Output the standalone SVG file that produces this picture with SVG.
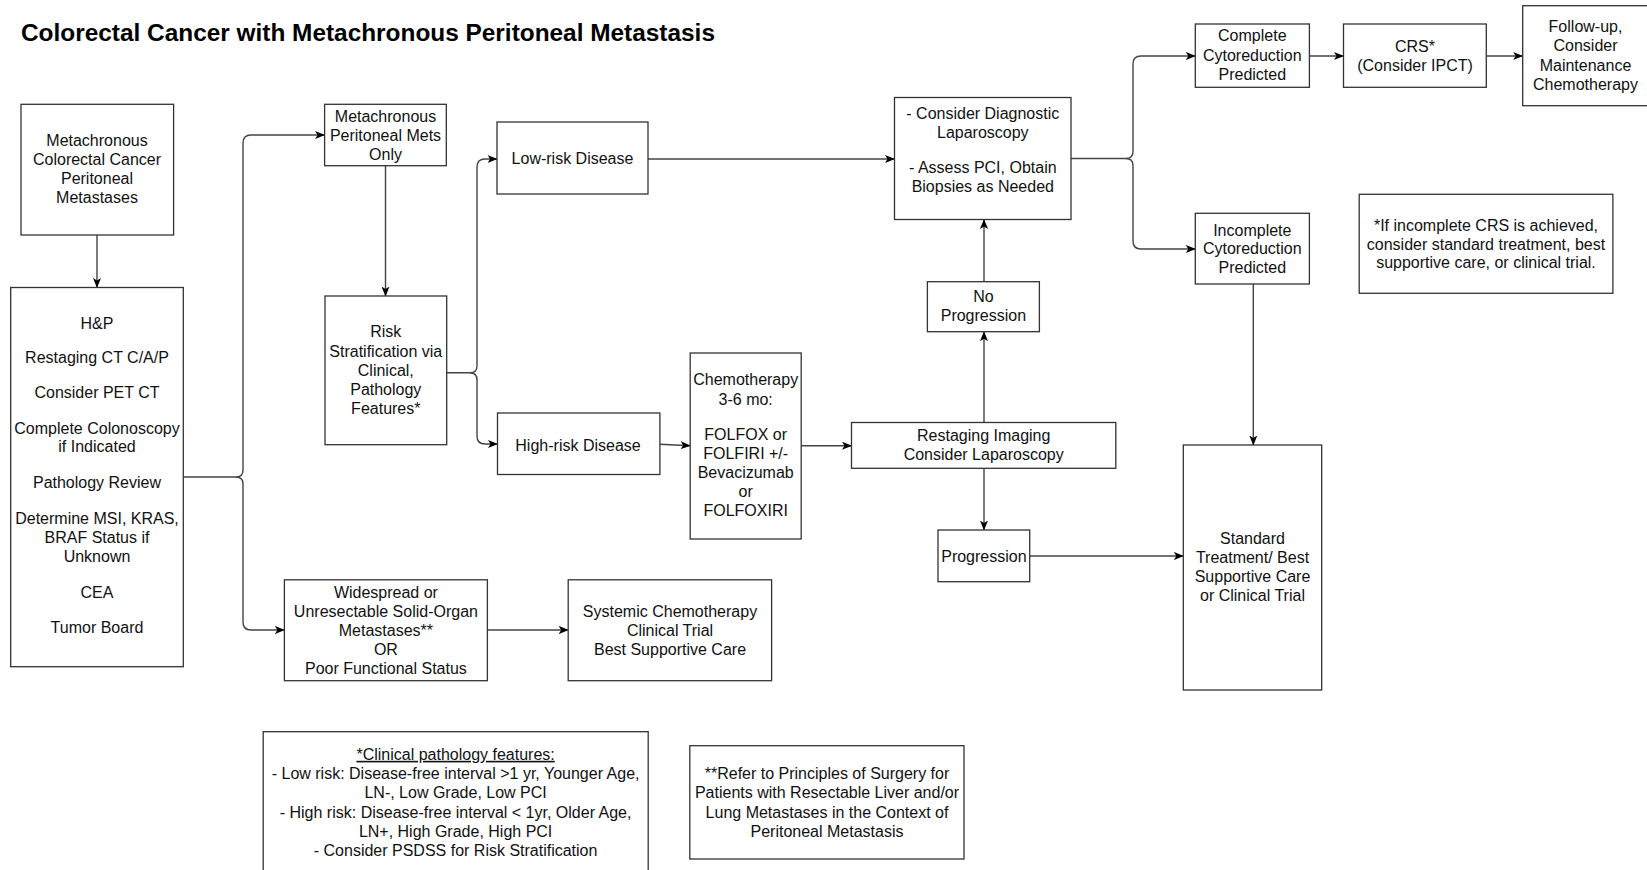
<svg xmlns="http://www.w3.org/2000/svg" width="1647" height="870" viewBox="0 0 1647 870">
<defs>
<style>
.box{fill:#fff;stroke:#333;stroke-width:1.3}
.t{font-family:"Liberation Sans",Arial,sans-serif;font-size:16px;fill:#111;text-anchor:middle}
.title{font-family:"Liberation Sans",Arial,sans-serif;font-size:24.4px;font-weight:bold;fill:#000}
.c{fill:none;stroke:#444;stroke-width:1.4}
</style>
<marker id="ah" viewBox="0 0 10 8" refX="9.5" refY="4" markerWidth="10" markerHeight="8" markerUnits="userSpaceOnUse" orient="auto">
<path d="M0,0 L10,4 L0,8 L2.5,4 Z" fill="#000"/>
</marker>
</defs>
<rect width="1647" height="870" fill="#fff"/>
<text class="title" x="21" y="40.5">Colorectal Cancer with Metachronous Peritoneal Metastasis</text>

<g id="connectors">
<path class="c" marker-end="url(#ah)" d="M97 235 V287.5"/>
<path class="c" marker-end="url(#ah)" d="M184 477 H236 Q243 477 243 470 V143 Q243 135 251 135 H324.6"/>
<path class="c" marker-end="url(#ah)" d="M236 477 Q243 477 243 484 V622 Q243 630 251 630 H284.4"/>
<path class="c" marker-end="url(#ah)" d="M385.5 165.7 V296"/>
<path class="c" marker-end="url(#ah)" d="M446.7 372.7 H470 Q477 372.7 477 366 V167 Q477 159 485 159 H497"/>
<path class="c" marker-end="url(#ah)" d="M470 372.7 Q477 372.7 477 380 V436 Q477 444 485 444 H497.5"/>
<path class="c" marker-end="url(#ah)" d="M648 159 H894.5"/>
<path class="c" marker-end="url(#ah)" d="M660 444.3 L690.2 445.7"/>
<path class="c" marker-end="url(#ah)" d="M801.2 445.7 H851.5"/>
<path class="c" marker-end="url(#ah)" d="M984 422.5 V331.7"/>
<path class="c" marker-end="url(#ah)" d="M984 281.7 V219.5"/>
<path class="c" marker-end="url(#ah)" d="M984 468.3 V530"/>
<path class="c" marker-end="url(#ah)" d="M1029.7 556 H1183.3"/>
<path class="c" marker-end="url(#ah)" d="M1071 158.5 H1126 Q1133 158.5 1133 151.5 V64 Q1133 56 1141 56 H1195.3"/>
<path class="c" marker-end="url(#ah)" d="M1126 158.5 Q1133 158.5 1133 165.5 V241 Q1133 249 1141 249 H1195.3"/>
<path class="c" marker-end="url(#ah)" d="M1309.4 56 H1343.5"/>
<path class="c" marker-end="url(#ah)" d="M1486.3 56 H1522.7"/>
<path class="c" marker-end="url(#ah)" d="M1253.3 284 V445"/>
<path class="c" marker-end="url(#ah)" d="M487.4 630 H568.2"/>
</g>

<g id="n1"><rect class="box" x="21" y="104.3" width="152.6" height="130.7"/>
<text class="t" x="97" y="145.5">Metachronous</text>
<text class="t" x="97" y="164.8">Colorectal Cancer</text>
<text class="t" x="97" y="184.2">Peritoneal</text>
<text class="t" x="97" y="203.2">Metastases</text></g>

<g id="n2"><rect class="box" x="10.7" y="287.5" width="172.6" height="379.2"/>
<text class="t" x="97" y="328.5">H&amp;P</text>
<text class="t" x="97" y="363.2">Restaging CT C/A/P</text>
<text class="t" x="97" y="398.2">Consider PET CT</text>
<text class="t" x="97" y="433.8">Complete Colonoscopy</text>
<text class="t" x="97" y="452.2">if Indicated</text>
<text class="t" x="97" y="488.2">Pathology Review</text>
<text class="t" x="97" y="523.8">Determine MSI, KRAS,</text>
<text class="t" x="97" y="543.2">BRAF Status if</text>
<text class="t" x="97" y="562.2">Unknown</text>
<text class="t" x="97" y="598.2">CEA</text>
<text class="t" x="97" y="633.2">Tumor Board</text></g>

<g id="n3"><rect class="box" x="324.6" y="104.3" width="121.7" height="61.4"/>
<text class="t" x="385.5" y="121.5">Metachronous</text>
<text class="t" x="385.5" y="140.5">Peritoneal Mets</text>
<text class="t" x="385.5" y="159.8">Only</text></g>

<g id="n4"><rect class="box" x="325" y="296" width="121.7" height="148.7"/>
<text class="t" x="385.8" y="337.2">Risk</text>
<text class="t" x="385.8" y="357.2">Stratification via</text>
<text class="t" x="385.8" y="375.5">Clinical,</text>
<text class="t" x="385.8" y="394.8">Pathology</text>
<text class="t" x="385.8" y="413.8">Features*</text></g>

<g id="n5"><rect class="box" x="284.4" y="579.8" width="203" height="100.9"/>
<text class="t" x="385.9" y="597.8">Widespread or</text>
<text class="t" x="385.9" y="616.5">Unresectable Solid-Organ</text>
<text class="t" x="385.9" y="635.5">Metastases**</text>
<text class="t" x="385.9" y="654.8">OR</text>
<text class="t" x="385.9" y="674.2">Poor Functional Status</text></g>

<g id="n6"><rect class="box" x="568.2" y="579.8" width="203.4" height="100.9"/>
<text class="t" x="670" y="616.5">Systemic Chemotherapy</text>
<text class="t" x="670" y="635.5">Clinical Trial</text>
<text class="t" x="670" y="654.8">Best Supportive Care</text></g>

<g id="n7"><rect class="box" x="497" y="122" width="151" height="72"/>
<text class="t" x="572.5" y="163.8">Low-risk Disease</text></g>

<g id="n8"><rect class="box" x="497.5" y="413" width="162.4" height="61.5"/>
<text class="t" x="578" y="450.5">High-risk Disease</text></g>

<g id="n9"><rect class="box" x="690.2" y="353" width="111" height="186"/>
<text class="t" x="745.7" y="384.8">Chemotherapy</text>
<text class="t" x="745.7" y="404.8">3-6 mo:</text>
<text class="t" x="745.7" y="439.8">FOLFOX or</text>
<text class="t" x="745.7" y="458.8">FOLFIRI +/-</text>
<text class="t" x="745.7" y="478.2">Bevacizumab</text>
<text class="t" x="745.7" y="497.1">or</text>
<text class="t" x="745.7" y="516">FOLFOXIRI</text></g>

<g id="n10"><rect class="box" x="894.5" y="97.5" width="176.5" height="122"/>
<text class="t" x="982.8" y="118.8">- Consider Diagnostic</text>
<text class="t" x="982.8" y="137.8">Laparoscopy</text>
<text class="t" x="982.8" y="173.2">- Assess PCI, Obtain</text>
<text class="t" x="982.8" y="192.2">Biopsies as Needed</text></g>

<g id="n11"><rect class="box" x="927.4" y="281.7" width="112" height="50"/>
<text class="t" x="983.4" y="301.5">No</text>
<text class="t" x="983.4" y="320.5">Progression</text></g>

<g id="n12"><rect class="box" x="851.5" y="422.5" width="264.3" height="45.8"/>
<text class="t" x="983.7" y="441.2">Restaging Imaging</text>
<text class="t" x="983.7" y="459.8">Consider Laparoscopy</text></g>

<g id="n13"><rect class="box" x="938" y="530" width="91.7" height="51.7"/>
<text class="t" x="983.9" y="561.5">Progression</text></g>

<g id="n14"><rect class="box" x="1183.3" y="445" width="138.4" height="245"/>
<text class="t" x="1252.5" y="543.8">Standard</text>
<text class="t" x="1252.5" y="562.5">Treatment/ Best</text>
<text class="t" x="1252.5" y="581.5">Supportive Care</text>
<text class="t" x="1252.5" y="601">or Clinical Trial</text></g>

<g id="n15"><rect class="box" x="1195.3" y="24" width="114.1" height="63.3"/>
<text class="t" x="1252.3" y="41">Complete</text>
<text class="t" x="1252.3" y="60.5">Cytoreduction</text>
<text class="t" x="1252.3" y="79.8">Predicted</text></g>

<g id="n16"><rect class="box" x="1343.5" y="24" width="142.8" height="63.3"/>
<text class="t" x="1415" y="51.5">CRS*</text>
<text class="t" x="1415" y="70.5">(Consider IPCT)</text></g>

<g id="n17"><rect class="box" x="1522.7" y="5.7" width="126" height="100"/>
<text class="t" x="1585.5" y="32.2">Follow-up,</text>
<text class="t" x="1585.5" y="51.2">Consider</text>
<text class="t" x="1585.5" y="70.5">Maintenance</text>
<text class="t" x="1585.5" y="89.8">Chemotherapy</text></g>

<g id="n18"><rect class="box" x="1195.3" y="213.3" width="114.1" height="70.7"/>
<text class="t" x="1252.3" y="235.5">Incomplete</text>
<text class="t" x="1252.3" y="254.2">Cytoreduction</text>
<text class="t" x="1252.3" y="273.2">Predicted</text></g>

<g id="n19"><rect class="box" x="1359.2" y="194.3" width="253.7" height="99"/>
<text class="t" x="1486" y="230.5">*If incomplete CRS is achieved,</text>
<text class="t" x="1486" y="249.5">consider standard treatment, best</text>
<text class="t" x="1486" y="268.2">supportive care, or clinical trial.</text></g>

<g id="n20"><rect class="box" x="263.2" y="731.7" width="385" height="150"/>
<text class="t" x="455.6" y="759.8" text-decoration="underline">*Clinical pathology features:</text>
<text class="t" x="455.6" y="778.8">- Low risk: Disease-free interval &gt;1 yr, Younger Age,</text>
<text class="t" x="455.6" y="797.8">LN-, Low Grade, Low PCI</text>
<text class="t" x="455.6" y="817.8">- High risk: Disease-free interval &lt; 1yr, Older Age,</text>
<text class="t" x="455.6" y="836.5">LN+, High Grade, High PCI</text>
<text class="t" x="455.6" y="855.5">- Consider PSDSS for Risk Stratification</text></g>

<g id="n21"><rect class="box" x="689.8" y="745.7" width="274.2" height="113.3"/>
<text class="t" x="827" y="778.8">**Refer to Principles of Surgery for</text>
<text class="t" x="827" y="797.8">Patients with Resectable Liver and/or</text>
<text class="t" x="827" y="817.8">Lung Metastases in the Context of</text>
<text class="t" x="827" y="836.5">Peritoneal Metastasis</text></g>
</svg>
